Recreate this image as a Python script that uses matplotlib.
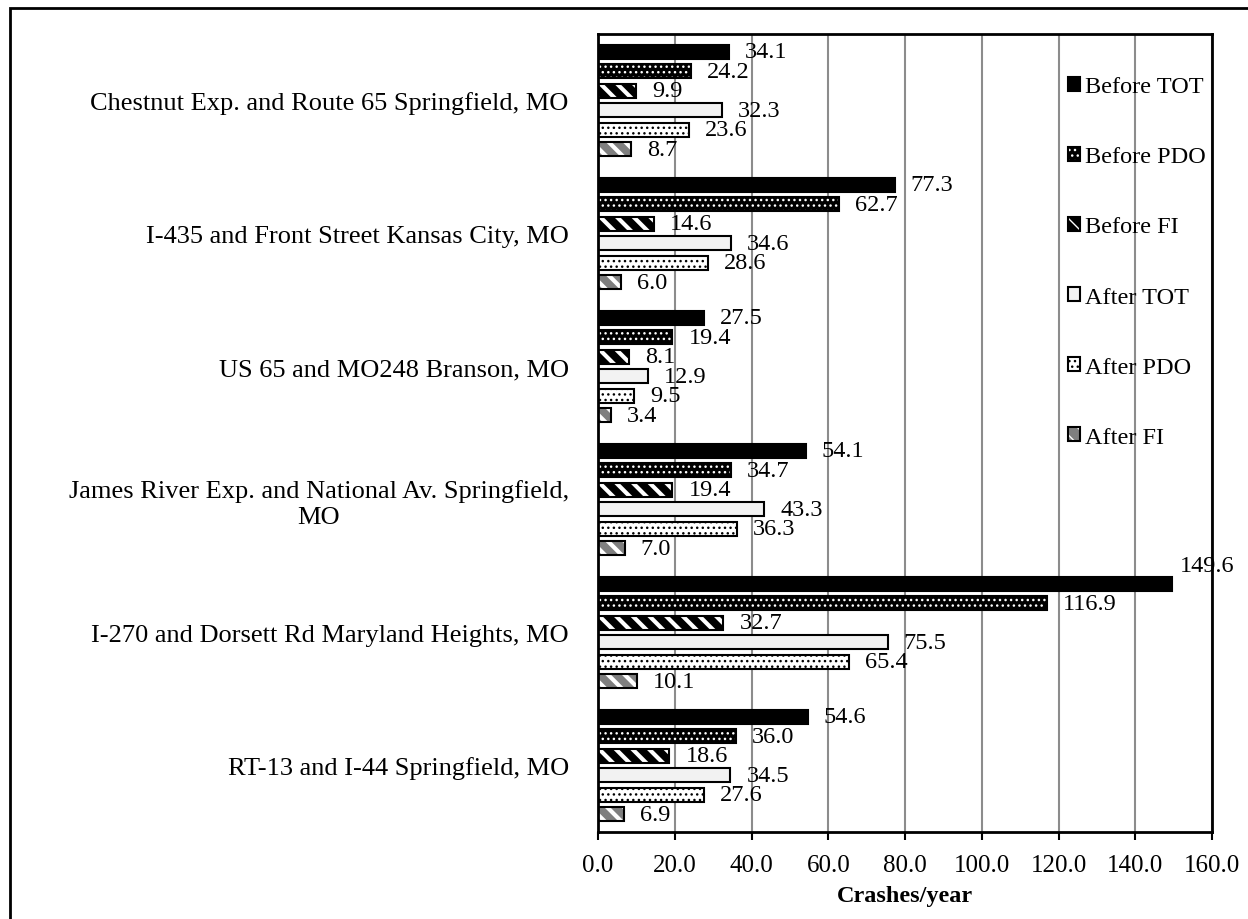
import numpy as np
import matplotlib
matplotlib.use('Agg')
import matplotlib.pyplot as plt
from matplotlib.patches import Rectangle
from matplotlib.legend_handler import HandlerTuple

plt.rcParams['font.family'] = ['Liberation Serif', 'DejaVu Serif']

# categories, top to bottom
sites = ['Chestnut Exp. and Route 65 Springfield, MO',
         'I-435 and Front Street Kansas City, MO',
         'US 65 and MO248 Branson, MO',
         'James River Exp. and National Av. Springfield,\nMO',
         'I-270 and Dorsett Rd Maryland Heights, MO',
         'RT-13 and I-44 Springfield, MO']
series = ['Before TOT', 'Before PDO', 'Before FI', 'After TOT', 'After PDO', 'After FI']

before_tot = [34.1, 77.3, 27.5, 54.1, 149.6, 54.6]
before_pdo = [24.2, 62.7, 19.4, 34.7, 116.9, 36.0]
before_fi = [9.9, 14.6, 8.1, 19.4, 32.7, 18.6]
after_tot = [32.3, 34.6, 12.9, 43.3, 75.5, 34.5]
after_pdo = [23.6, 28.6, 9.5, 36.3, 65.4, 27.6]
after_fi = [8.7, 6.0, 3.4, 7.0, 10.1, 6.9]
values = [before_tot, before_pdo, before_fi, after_tot, after_pdo, after_fi]

# (face, hatch, hatch colour, hatch width)
styles = [('black', None, 'black', 1.0),
          ('black', '...', 'white', 1.0),
          ('black', '\\\\', 'white', 3.0),
          ('#f2f2f2', None, 'black', 1.0),
          ('white', '...', 'black', 1.0),
          ('#7f7f7f', '\\\\', 'white', 3.0)]

fig = plt.figure(figsize=(12.48, 9.2), dpi=100)
ax = fig.add_axes([598 / 1248, 1 - 833 / 920, 614 / 1248, 798 / 920])

y = np.arange(len(sites))
slot = 0.147
height = 0.105
fs = 17.5
handles = []
for k, (vals, (fc, hatch, hc, hlw)) in enumerate(zip(values, styles)):
    pos = y + (k - 2.5) * slot
    with plt.rc_context({'hatch.linewidth': hlw}):
        if hatch:
            b1 = ax.barh(pos, vals, height=height, color=fc, edgecolor=hc, hatch=hatch,
                         linewidth=0, zorder=2)
            for p in b1.patches:
                if hasattr(p, 'set_hatch_linewidth'):
                    p.set_hatch_linewidth(hlw)
        else:
            b1 = ax.barh(pos, vals, height=height, color=fc, linewidth=0, zorder=2)
    b2 = ax.barh(pos, vals, height=height, fill=False, edgecolor='black',
                 linewidth=1.5, zorder=3)
    handles.append((b1.patches[0], b2.patches[0]))
    for p, v in zip(pos, vals):
        if v > 140:
            # no room at the end of the axis: label sits above the bar end
            ax.annotate(f'{v:.1f}', (v, p), xytext=(8, 18), textcoords='offset pixels',
                        ha='left', va='center', fontsize=fs)
        else:
            ax.annotate(f'{v:.1f}', (v, p), xytext=(16, 0), textcoords='offset pixels',
                        ha='left', va='center', fontsize=fs)

ax.set_xlim(0, 160)
ax.set_ylim(len(sites) - 0.5, -0.5)
ax.set_xticks(np.arange(0, 161, 20))
ax.set_xticklabels([f'{t:.1f}' for t in np.arange(0, 161, 20)], fontsize=18)
ax.set_yticks(y)
ax.set_yticklabels(sites, fontsize=19, multialignment='center')
ax.tick_params(axis='y', length=0, pad=21)
ax.tick_params(axis='x', length=6, width=1.5, pad=10, direction='out')
ax.grid(axis='x', color='#8c8c8c', linewidth=1.5, zorder=0)
ax.set_axisbelow(True)
for s in ax.spines.values():
    s.set_linewidth(2)
    s.set_color('black')
ax.set_xlabel('Crashes/year', fontsize=fs, fontweight='bold', labelpad=6)

leg = ax.legend(handles, series, handler_map={tuple: HandlerTuple(ndivide=1)},
                loc='upper left', bbox_to_anchor=(0.766, 0.947), frameon=False,
                fontsize=fs, handlelength=0.5, handleheight=0.5, handletextpad=0.2,
                labelspacing=2.02, borderpad=0, borderaxespad=0)

# outer border of the figure
fig.patches.append(Rectangle((10 / 1248, -0.1), 1.2, 1.1 - 9 / 920, transform=fig.transFigure,
                             fill=False, edgecolor='black', linewidth=2))

fig.savefig('out.png', dpi=100)
